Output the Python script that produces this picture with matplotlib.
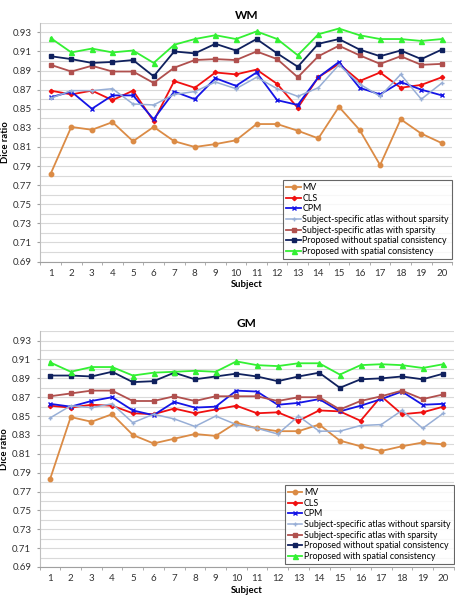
import matplotlib
matplotlib.use("Agg")
import matplotlib.pyplot as plt
import numpy as np

plt.rcParams['font.family'] = ['Lato', 'DejaVu Sans']

subjects = list(range(1, 21))
names = [
    "MV",
    "CLS",
    "CPM",
    "Subject-specific atlas without sparsity",
    "Subject-specific atlas with sparsity",
    "Proposed without spatial consistency",
    "Proposed with spatial consistency",
]

wm_mv      = [0.782, 0.831, 0.828, 0.836, 0.816, 0.831, 0.816, 0.810, 0.813, 0.817,
              0.834, 0.834, 0.827, 0.819, 0.852, 0.828, 0.791, 0.839, 0.824, 0.814]
wm_cls     = [0.869, 0.865, 0.869, 0.859, 0.869, 0.837, 0.879, 0.872, 0.888, 0.886,
              0.891, 0.876, 0.851, 0.883, 0.897, 0.879, 0.888, 0.872, 0.875, 0.883]
wm_cpm     = [0.862, 0.868, 0.850, 0.864, 0.864, 0.839, 0.868, 0.860, 0.882, 0.874,
              0.888, 0.859, 0.854, 0.883, 0.899, 0.872, 0.865, 0.878, 0.870, 0.864]
wm_ss_nosp = [0.861, 0.869, 0.869, 0.871, 0.855, 0.854, 0.865, 0.868, 0.878, 0.871,
              0.883, 0.871, 0.863, 0.872, 0.896, 0.876, 0.863, 0.886, 0.860, 0.877]
wm_ss_sp   = [0.896, 0.889, 0.895, 0.889, 0.889, 0.877, 0.893, 0.901, 0.902, 0.901,
              0.910, 0.902, 0.883, 0.905, 0.916, 0.906, 0.897, 0.905, 0.896, 0.897]
wm_prop_ns = [0.905, 0.902, 0.898, 0.899, 0.901, 0.884, 0.910, 0.908, 0.918, 0.911,
              0.923, 0.908, 0.894, 0.918, 0.923, 0.912, 0.905, 0.911, 0.902, 0.912]
wm_prop    = [0.924, 0.909, 0.913, 0.909, 0.911, 0.898, 0.917, 0.923, 0.927, 0.923,
              0.931, 0.923, 0.906, 0.928, 0.934, 0.927, 0.923, 0.923, 0.921, 0.923]

gm_mv      = [0.783, 0.849, 0.844, 0.852, 0.830, 0.821, 0.826, 0.831, 0.829, 0.843,
              0.837, 0.834, 0.834, 0.841, 0.824, 0.818, 0.813, 0.818, 0.822, 0.820]
gm_cls     = [0.861, 0.859, 0.862, 0.861, 0.853, 0.852, 0.858, 0.853, 0.857, 0.861,
              0.853, 0.854, 0.845, 0.856, 0.855, 0.845, 0.871, 0.852, 0.854, 0.860]
gm_cpm     = [0.863, 0.860, 0.866, 0.870, 0.856, 0.851, 0.865, 0.859, 0.860, 0.877,
              0.876, 0.862, 0.864, 0.868, 0.855, 0.861, 0.868, 0.876, 0.862, 0.863]
gm_ss_nosp = [0.848, 0.861, 0.859, 0.863, 0.843, 0.852, 0.847, 0.839, 0.850, 0.841,
              0.837, 0.831, 0.850, 0.834, 0.834, 0.840, 0.841, 0.856, 0.837, 0.853]
gm_ss_sp   = [0.871, 0.874, 0.877, 0.877, 0.866, 0.866, 0.871, 0.866, 0.871, 0.871,
              0.871, 0.866, 0.870, 0.870, 0.857, 0.866, 0.871, 0.877, 0.868, 0.873]
gm_prop_ns = [0.893, 0.893, 0.892, 0.897, 0.886, 0.887, 0.896, 0.889, 0.892, 0.895,
              0.892, 0.887, 0.892, 0.896, 0.880, 0.889, 0.890, 0.892, 0.889, 0.895]
gm_prop    = [0.907, 0.897, 0.902, 0.902, 0.893, 0.896, 0.897, 0.898, 0.897, 0.908,
              0.904, 0.903, 0.906, 0.906, 0.894, 0.904, 0.905, 0.904, 0.901, 0.905]

# colour, marker, marker size, line width
styles = [
    ("#DB8B45", "o", 3.2, 1.3),
    ("#F01010", "D", 2.2, 1.3),
    ("#1414E6", "x", 3.2, 1.3),
    ("#97AED6", "+", 3.2, 1.1),
    ("#B0504E", "s", 3.3, 1.3),
    ("#10215E", "s", 3.3, 1.3),
    ("#33F033", "^", 3.6, 1.3),
]

yticks = [round(0.69 + 0.02 * i, 2) for i in range(13)]


def draw(ax, series, title, legend_box):
    for (color, marker, ms, lw), name, vals in zip(styles, names, series):
        ax.plot(subjects, vals, color=color, marker=marker, markersize=ms,
                markeredgewidth=1.0, linewidth=lw, label=name, zorder=3)
    ax.set_xlim(0.5, 20.5)
    ax.set_ylim(0.69, 0.94)
    ax.set_yticks(yticks)
    ax.set_yticklabels([f"{t:.2f}" for t in yticks])
    ax.set_yticks(np.arange(0.69, 0.9401, 0.01), minor=True)
    ax.set_xticks(subjects)
    ax.set_xticks(np.arange(0.5, 20.6, 1.0), minor=True)
    ax.grid(axis="y", which="both", color="#D9D9D9", linewidth=0.8, zorder=0)
    ax.tick_params(axis="x", which="major", length=0, labelsize=7, pad=5, colors="#333333")
    ax.tick_params(axis="x", which="minor", length=2.5, color="#A0A0A0")
    ax.tick_params(axis="y", which="major", length=2.5, labelsize=7, color="#A0A0A0",
                   labelcolor="#333333")
    ax.tick_params(axis="y", which="minor", length=0)
    for s in ["top", "right"]:
        ax.spines[s].set_visible(False)
    ax.spines["left"].set_color("#BFBFBF")
    ax.spines["bottom"].set_color("#A0A0A0")
    ax.set_title(title, fontsize=8.5, fontweight="bold", pad=3)
    ax.set_xlabel("Subject", fontsize=6.8, fontweight="bold", labelpad=2)
    ax.set_ylabel("Dice ratio", fontsize=6.8, fontweight="bold", labelpad=2)
    leg = ax.legend(loc="lower right", bbox_to_anchor=legend_box, fontsize=6.4,
                    frameon=True, fancybox=False, edgecolor="#404040",
                    handlelength=1.6, handletextpad=0.2, labelspacing=0.18,
                    borderpad=0.35, borderaxespad=0)
    leg.get_frame().set_linewidth(0.8)
    leg.set_zorder(5)


fig = plt.figure(figsize=(4.56, 6.0), dpi=100)
ax1 = fig.add_axes([0.0886, 0.564, 0.903, 0.398])
ax2 = fig.add_axes([0.087, 0.055, 0.908, 0.393])

draw(ax1, [wm_mv, wm_cls, wm_cpm, wm_ss_nosp, wm_ss_sp, wm_prop_ns, wm_prop], "WM", (1.0, 0.011))
draw(ax2, [gm_mv, gm_cls, gm_cpm, gm_ss_nosp, gm_ss_sp, gm_prop_ns, gm_prop], "GM", (1.0, 0.013))

fig.savefig("out.png", dpi=100)
